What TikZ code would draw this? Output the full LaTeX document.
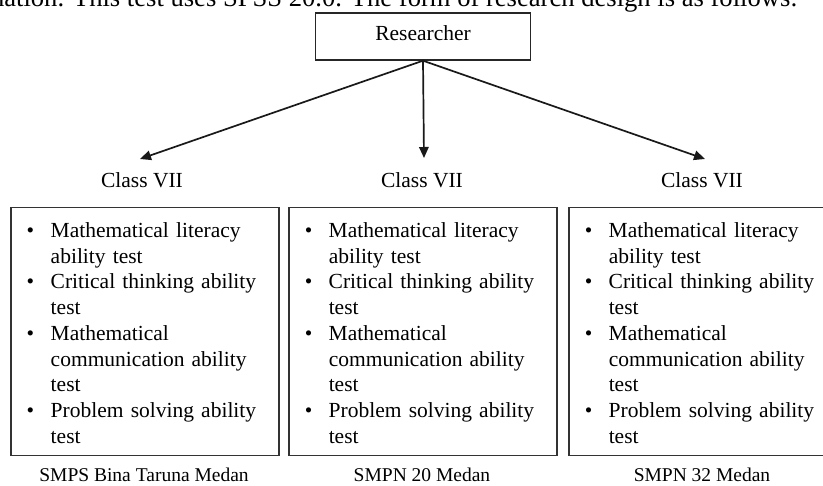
\documentclass[tikz,border=0pt]{standalone}
\usepackage{fontspec}
\setmainfont{Liberation Serif}
\usetikzlibrary{arrows.meta}
\newcommand{\rdbody}{\fontsize{21.5}{25.7}\selectfont}
\newcommand{\rdtests}{%
  \raisebox{-3.5pt}[\height][\depth]{%
  \begin{tabular}{@{}p{24pt}@{}l@{}}
    \textbullet & Mathematical literacy\\
                & ability test\\
    \textbullet & Critical thinking ability\\
                & test\\
    \textbullet & Mathematical\\
                & communication ability\\
                & test\\
    \textbullet & Problem solving ability\\
                & test
  \end{tabular}}}
\tikzset{
  rdroot/.style  ={rectangle, draw=black!85, line width=1.4pt, minimum width=215pt,
                   minimum height=47pt, inner sep=0pt, font=\rdbody},
  rdbox/.style   ={rectangle, draw=black!80, line width=1.5pt, anchor=north west,
                   minimum width=268pt, minimum height=248pt, text width=236pt,
                   inner xsep=16pt, inner ysep=0pt, align=left, font=\rdbody},
  rdclass/.style ={inner sep=0pt, font=\rdbody},
  rdschool/.style={inner sep=0pt, font=\fontsize{19.5}{23}\selectfont},
  rdarrow/.style ={-{Triangle[length=11pt,width=9.5pt]}, line width=1.7pt, draw=black!90},
}
\begin{document}
\begin{tikzpicture}[x=1pt, y=-1pt]
  \clip (0,0) rectangle (823,486);
  \node[inner sep=0pt, anchor=base east, font=\fontsize{26.6}{30}\selectfont] (intro) at (798,7)
    {nation. This test uses SPSS 20.0. The form of research design is as follows:};
  \node[rdroot] (r) at (423,36.5) {\raisebox{3pt}[\height][\depth]{Researcher}};
  \node[rdclass] (c1) at (142,180) {Class VII};
  \node[rdclass] (c2) at (422,180) {Class VII};
  \node[rdclass] (c3) at (702,180) {Class VII};
  \coordinate (tip1) at (140,159);
  \coordinate (tip2) at (424,158);
  \coordinate (tip3) at (705,159);
  \foreach \n in {1,2,3}{\draw[rdarrow] (r.south) -- (tip\n);}
  \node[rdbox] (b1) at (10,207)  {\rdtests};
  \node[rdbox] (b2) at (288,207) {\rdtests};
  \node[rdbox] (b3) at (568,207) {\rdtests};
  \node[rdschool] (s1) at (144,475) {SMPS Bina Taruna Medan};
  \node[rdschool] (s2) at (422,475) {SMPN 20 Medan};
  \node[rdschool] (s3) at (702,475) {SMPN 32 Medan};
\end{tikzpicture}
\end{document}
